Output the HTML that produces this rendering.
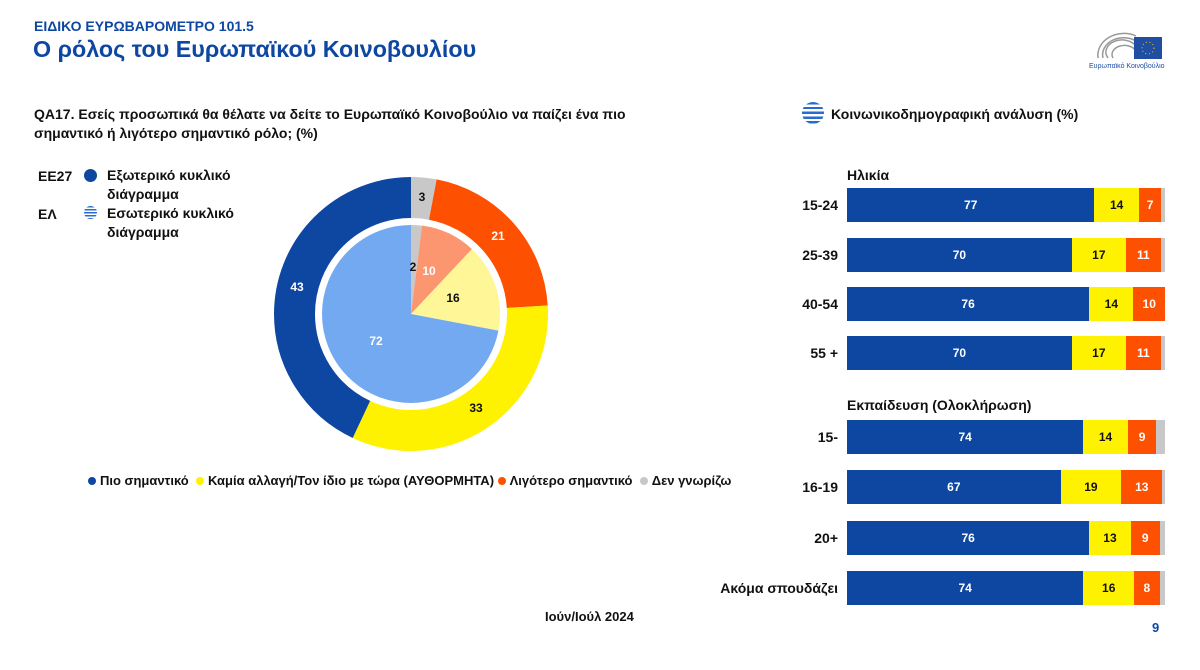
<!DOCTYPE html>
<html><head><meta charset="utf-8"><style>
body{margin:0;width:1200px;height:670px;background:#fff;font-family:"Liberation Sans","DejaVu Sans",sans-serif;position:relative;overflow:hidden;color:#111}
.a{position:absolute;white-space:nowrap}
.bar{position:absolute;left:847px;width:318px;height:34px;display:flex;font-weight:bold;font-size:12px}
.bar div{display:flex;align-items:center;justify-content:center;height:100%}
.b{background:#0e47a1;color:#fff}.y{background:#fff200;color:#111}.o{background:#fd5000;color:#fff}.g{background:#c8c8c8}
.lbl{position:absolute;right:362px;font-weight:bold;font-size:14px;text-align:right}
.dot{display:inline-block;width:8px;height:8px;border-radius:50%;margin-right:4px;vertical-align:0}
</style></head><body>
<div class="a" style="left:34px;top:18px;font-size:14px;font-weight:bold;color:#0e47a1">ΕΙΔΙΚΟ ΕΥΡΩΒΑΡΟΜΕΤΡΟ 101.5</div>
<div class="a" style="left:33px;top:36px;font-size:23.3px;font-weight:bold;color:#0e47a1">Ο ρόλος του Ευρωπαϊκού Κοινοβουλίου</div>
<svg class="a" style="left:1088px;top:24px" width="80" height="46" viewBox="0 0 80 46">
<g fill="none" stroke="#999" stroke-width="1.5"><path d="M10 34 A26 22 0 0 1 48 12"/><path d="M15 34 A21 17 0 0 1 48 17"/><path d="M20 34 A16 12 0 0 1 48 22"/><path d="M25 34 A11 8 0 0 1 48 27"/></g>
<rect x="46" y="13" width="28" height="22" fill="#1f4ea3"/><circle cx="60" cy="24" r="6" fill="none" stroke="#fc0" stroke-dasharray="1 2.7"/>
<text x="1" y="44" font-size="7" fill="#1f4ea3" font-family="Liberation Sans">Ευρωπαϊκό Κοινοβούλιο</text></svg>
<div class="a" style="left:34px;top:105px;font-size:14px;font-weight:bold;line-height:19px">QA17. Εσείς προσωπικά θα θέλατε να δείτε το Ευρωπαϊκό Κοινοβούλιο να παίζει ένα πιο<br>σημαντικό ή λιγότερο σημαντικό ρόλο; (%)</div>
<div class="a" style="left:38px;top:168px;font-size:14px;font-weight:bold">ΕΕ27</div>
<div class="a" style="left:84px;top:169px;width:13px;height:13px;border-radius:50%;background:#0e47a1"></div>
<div class="a" style="left:107px;top:166px;font-size:14px;font-weight:bold;line-height:19px">Εξωτερικό κυκλικό<br>διάγραμμα</div>
<div class="a" style="left:38px;top:206px;font-size:14px;font-weight:bold">ΕΛ</div>
<div class="a" style="left:84px;top:206px;width:13px;height:13px;border-radius:50%;background:repeating-linear-gradient(#2a6bd0 0 1.5px,#fff 1.5px 3px)"></div>
<div class="a" style="left:107px;top:204px;font-size:14px;font-weight:bold;line-height:19px">Εσωτερικό κυκλικό<br>διάγραμμα</div>
<svg class="a" style="left:0;top:0" width="700" height="500">
<g transform="rotate(-90 411 314)" fill="none" stroke-width="41">
<circle cx="411" cy="314" r="116.5" pathLength="100" stroke="#c8c8c8" stroke-dasharray="3 97" stroke-dashoffset="0"/>
<circle cx="411" cy="314" r="116.5" pathLength="100" stroke="#fd5000" stroke-dasharray="21 79" stroke-dashoffset="-3"/>
<circle cx="411" cy="314" r="116.5" pathLength="100" stroke="#fff200" stroke-dasharray="33 67" stroke-dashoffset="-24"/>
<circle cx="411" cy="314" r="116.5" pathLength="100" stroke="#0e47a1" stroke-dasharray="43 57" stroke-dashoffset="-57"/>
<circle cx="411" cy="314" r="44.5" pathLength="100" stroke-width="89" stroke="#c8c8c8" stroke-dasharray="2 98" stroke-dashoffset="0"/>
<circle cx="411" cy="314" r="44.5" pathLength="100" stroke-width="89" stroke="#fb9670" stroke-dasharray="10 90" stroke-dashoffset="-2"/>
<circle cx="411" cy="314" r="44.5" pathLength="100" stroke-width="89" stroke="#fff797" stroke-dasharray="16 84" stroke-dashoffset="-12"/>
<circle cx="411" cy="314" r="44.5" pathLength="100" stroke-width="89" stroke="#73a9f0" stroke-dasharray="72 28" stroke-dashoffset="-28"/>
</g>
<g font-family="Liberation Sans" font-weight="bold" font-size="12" text-anchor="middle">
<text x="422" y="201" fill="#111">3</text><text x="498" y="240" fill="#fff">21</text>
<text x="476" y="412" fill="#111">33</text><text x="297" y="291" fill="#fff">43</text>
<text x="413" y="271" fill="#111">2</text><text x="429" y="275" fill="#fff">10</text>
<text x="453" y="302" fill="#111">16</text><text x="376" y="345" fill="#fff">72</text></g>
</svg>
<div class="a" style="left:88px;top:473px;font-size:13px;font-weight:bold">
<span class="dot" style="background:#0e47a1"></span>Πιο σημαντικό &nbsp;<span class="dot" style="background:#fff200"></span>Καμία αλλαγή/Τον ίδιο με τώρα (ΑΥΘΟΡΜΗΤΑ) <span class="dot" style="background:#fd5000"></span>Λιγότερο σημαντικό &nbsp;<span class="dot" style="background:#c8c8c8"></span>Δεν γνωρίζω</div>
<div class="a" style="left:545px;top:609px;font-size:13px;font-weight:bold">Ιούν/Ιούλ 2024</div>
<div class="a" style="left:1152px;top:620px;font-size:13px;font-weight:bold;color:#0e47a1">9</div>
<div class="a" style="left:802px;top:102px;width:22px;height:22px;border-radius:50%;background:repeating-linear-gradient(#2a6bd0 0 2.4px,#fff 2.4px 4.8px)"></div>
<div class="a" style="left:831px;top:106px;font-size:14px;font-weight:bold">Κοινωνικοδημογραφική ανάλυση (%)</div>
<div class="a" style="left:847px;top:167px;font-size:14px;font-weight:bold">Ηλικία</div>
<div class="a" style="left:847px;top:397px;font-size:14px;font-weight:bold">Εκπαίδευση (Ολοκλήρωση)</div>

<div class="lbl" style="top:197px">15-24</div>
<div class="bar" style="top:188px"><div class="b" style="width:77.8%">77</div><div class="y" style="width:14%">14</div><div class="o" style="width:7%">7</div><div class="g" style="flex:1"></div></div>
<div class="lbl" style="top:247px">25-39</div>
<div class="bar" style="top:238px"><div class="b" style="width:70.7%">70</div><div class="y" style="width:17%">17</div><div class="o" style="width:11%">11</div><div class="g" style="flex:1"></div></div>
<div class="lbl" style="top:296px">40-54</div>
<div class="bar" style="top:287px"><div class="b" style="width:76.7%">76</div><div class="y" style="width:14%">14</div><div class="o" style="width:10%">10</div><div class="g" style="flex:1"></div></div>
<div class="lbl" style="top:345px">55 +</div>
<div class="bar" style="top:336px"><div class="b" style="width:70.7%">70</div><div class="y" style="width:17%">17</div><div class="o" style="width:11%">11</div><div class="g" style="flex:1"></div></div>

<div class="lbl" style="top:429px">15-</div>
<div class="bar" style="top:420px"><div class="b" style="width:74.3%">74</div><div class="y" style="width:14%">14</div><div class="o" style="width:9%">9</div><div class="g" style="flex:1"></div></div>
<div class="lbl" style="top:479px">16-19</div>
<div class="bar" style="top:470px"><div class="b" style="width:67.2%">67</div><div class="y" style="width:19%">19</div><div class="o" style="width:13%">13</div><div class="g" style="flex:1"></div></div>
<div class="lbl" style="top:530px">20+</div>
<div class="bar" style="top:521px"><div class="b" style="width:76.2%">76</div><div class="y" style="width:13%">13</div><div class="o" style="width:9.2%">9</div><div class="g" style="flex:1"></div></div>
<div class="lbl" style="top:580px">Ακόμα σπουδάζει</div>
<div class="bar" style="top:571px"><div class="b" style="width:74.3%">74</div><div class="y" style="width:16%">16</div><div class="o" style="width:8%">8</div><div class="g" style="flex:1"></div></div>
</body></html>
